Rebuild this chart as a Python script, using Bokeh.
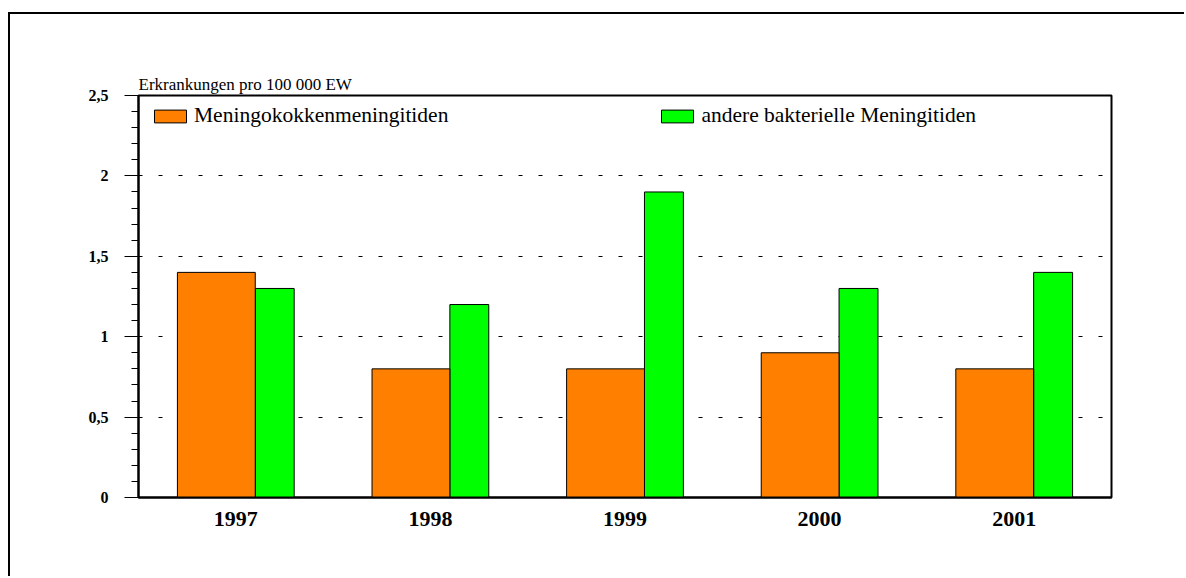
from bokeh.plotting import figure
from bokeh.models import (ColumnDataSource, FixedTicker, CustomJSTickFormatter,
                          Legend, LegendItem, Range1d)
from bokeh.embed import file_html
from bokeh.resources import INLINE
import numpy as np

years = ["1997", "1998", "1999", "2000", "2001"]
meningokokken = [1.4, 0.8, 0.8, 0.9, 0.8]
andere = [1.3, 1.2, 1.9, 1.3, 1.4]
y_major = [0, 0.5, 1, 1.5, 2, 2.5]
y_grid = [0.5, 1, 1.5, 2]
y_minor = [round(v * 0.1, 1) for v in range(0, 26)]

FONT = "Liberation Serif"

idx = np.arange(len(years))
src = ColumnDataSource(dict(
    xo=idx + 0.4, xg=idx + 0.7,
    mening=meningokokken, andere=andere,
))

p = figure(width=1176, height=564, output_backend="svg", toolbar_location=None,
           x_range=Range1d(0, len(years)), y_range=Range1d(0, 2.5),
           min_border_left=128, min_border_right=75, min_border_top=81,
           min_border_bottom=81)
p.styles = {"border-left": "2px solid black", "border-top": "2px solid black",
            "border-right": "none", "border-bottom": "none",
            "margin-top": "12px", "margin-left": "8px"}

p.title.text = "Erkrankungen pro 100 000 EW"
p.title.text_font = FONT
p.title.text_font_size = "17px"
p.title.text_font_style = "normal"
p.title.text_color = "black"
p.title.align = "left"
p.title.standoff = 4

g = p.vbar(x="xg", width=0.2, top="andere", bottom=0, source=src,
           fill_color="#00FF00", line_color="black", line_width=1)
o = p.vbar(x="xo", width=0.4, top="mening", bottom=0, source=src,
           fill_color="#FF8000", line_color="black", line_width=1)

# axes
p.xaxis.ticker = FixedTicker(ticks=list(idx + 0.5))
p.xaxis.major_label_overrides = {float(i + 0.5): y for i, y in enumerate(years)}
p.xaxis.major_label_text_font = FONT
p.xaxis.major_label_text_font_size = "22px"
p.xaxis.major_label_text_font_style = "bold"
p.xaxis.major_label_text_color = "black"
p.xaxis.major_tick_line_color = None
p.xaxis.minor_tick_line_color = None
p.xaxis.axis_line_color = "black"
p.xaxis.axis_line_width = 2
p.xaxis.major_label_standoff = 8

p.yaxis.ticker = FixedTicker(ticks=y_major, minor_ticks=y_minor)
p.yaxis.formatter = CustomJSTickFormatter(code="return tick.toString().replace('.', ',');")
p.yaxis.major_label_text_font = FONT
p.yaxis.major_label_text_font_size = "16px"
p.yaxis.major_label_text_font_style = "bold"
p.yaxis.major_label_text_color = "black"
p.yaxis.major_tick_out = 14
p.yaxis.major_tick_in = 0
p.yaxis.minor_tick_out = 7
p.yaxis.minor_tick_in = 0
p.yaxis.major_tick_line_color = "black"
p.yaxis.minor_tick_line_color = "black"
p.yaxis.axis_line_color = "black"
p.yaxis.axis_line_width = 2
p.yaxis.major_label_standoff = 16

p.xgrid.grid_line_color = None
p.ygrid.ticker = FixedTicker(ticks=y_grid)
p.ygrid.grid_line_color = "black"
p.ygrid.grid_line_dash = "4 16"
p.ygrid.grid_line_width = 1

p.outline_line_color = "black"
p.outline_line_width = 2
p.outline_line_alpha = 1.0

legend = Legend(items=[
    LegendItem(label="Meningokokkenmeningitiden", renderers=[o]),
    LegendItem(label="andere bakterielle Meningitiden", renderers=[g]),
], orientation="horizontal", location=(12, 369))
legend.glyph_width = 40
legend.glyph_height = 16
legend.label_height = 13
legend.label_text_font = FONT
legend.label_text_font_size = "21.5px"
legend.label_text_color = "black"
legend.label_standoff = 4
legend.spacing = 209
legend.padding = 0
legend.margin = 0
legend.border_line_color = None
legend.background_fill_alpha = 0
p.add_layout(legend)

open("out.html", "w").write(file_html(p, INLINE))
